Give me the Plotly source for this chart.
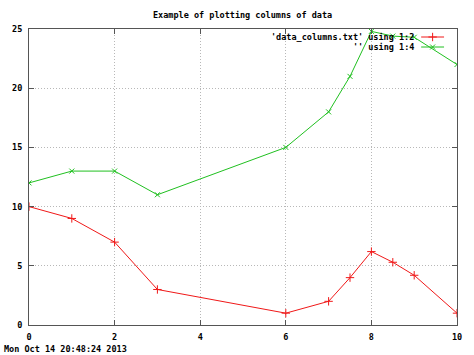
import plotly.graph_objects as go

x_red = [0, 1, 2, 3, 6, 7, 7.5, 8, 8.5, 9, 10]
y_red = [10, 9, 7, 3, 1, 2, 4, 6.2, 5.3, 4.2, 1]
x_green = [0, 1, 2, 3, 6, 7, 7.5, 8, 8.5, 9, 10]
y_green = [12, 13, 13, 11, 15, 18, 21, 24.8, 24.4, 24.3, 22]

title = "Example of plotting columns of data"
legend_labels = ["'data_columns.txt' using 1:2", "'' using 1:4"]
timestamp = "Mon Oct 14 20:48:24 2013"
x_ticks = [0, 2, 4, 6, 8, 10]
y_ticks = [0, 5, 10, 15, 20, 25]

RED = "#f01818"
GREEN = "#20c020"
FONT = dict(family="DejaVu Sans Mono", size=8.5, color="#000000", weight="bold")

W, H = 474, 355
L, R, T, B = 29, 15, 29, 30

pw = W - L - R
ph = H - T - B
def px_x(p):
    return (p - L) / pw
def px_y(p):
    return 1 - (p - T) / ph

fig = go.Figure()
fig.add_trace(go.Scatter(x=x_red, y=y_red, mode="lines+markers",
                         line=dict(color=RED, width=1),
                         marker=dict(symbol="cross-thin", size=6, line=dict(color=RED, width=1)),
                         showlegend=False))
fig.add_trace(go.Scatter(x=x_green, y=y_green, mode="lines+markers",
                         line=dict(color=GREEN, width=1),
                         marker=dict(symbol="x-thin", size=5, line=dict(color=GREEN, width=1)),
                         showlegend=False))

for i, (lab, col, sym) in enumerate([(legend_labels[0], RED, "cross-thin"), (legend_labels[1], GREEN, "x-thin")]):
    yy = px_y(37 + 10 * i)
    fig.add_trace(go.Scatter(x=[px_x(423), px_x(446)], y=[yy, yy], mode="lines",
                             line=dict(color=col, width=1), xaxis="x2", yaxis="y2",
                             showlegend=False, hoverinfo="skip"))
    fig.add_trace(go.Scatter(x=[px_x(434.5)], y=[yy], mode="markers",
                             marker=dict(symbol=sym, size=6 if i == 0 else 5, line=dict(color=col, width=1)),
                             xaxis="x2", yaxis="y2", showlegend=False, hoverinfo="skip"))
    fig.add_annotation(x=px_x(418), y=yy, xref="x2", yref="y2", text=lab, showarrow=False,
                       xanchor="right", yanchor="middle", font=FONT)

fig.add_annotation(x=px_x(243), y=px_y(15), xref="paper", yref="paper", text=title,
                   showarrow=False, xanchor="center", yanchor="middle", font=FONT)

# timestamp (gnuplot "set timestamp") at bottom-left
fig.add_annotation(x=px_x(2), y=px_y(349), xref="paper", yref="paper", text=timestamp,
                   showarrow=False, xanchor="left", yanchor="middle", font=FONT)

fig.update_layout(
    width=W, height=H,
    margin=dict(l=L, r=R, t=T, b=B, pad=0),
    paper_bgcolor="white", plot_bgcolor="white",
    font=FONT,
    xaxis=dict(range=[0, 10], tickvals=x_ticks, ticks="inside", ticklen=5, tickcolor="#555555",
               showline=True, linecolor="#555555", linewidth=1, mirror="ticks",
               showgrid=True, gridcolor="#b8b8b8", griddash="1px,2px", gridwidth=1,
               zeroline=False, tickfont=FONT, ticklabelstandoff=4),
    yaxis=dict(range=[0, 25], tickvals=y_ticks, ticks="inside", ticklen=5, tickcolor="#555555",
               showline=True, linecolor="#555555", linewidth=1, mirror="ticks",
               showgrid=True, gridcolor="#b8b8b8", griddash="1px,2px", gridwidth=1,
               zeroline=False, tickfont=FONT, ticklabelstandoff=4),
    xaxis2=dict(range=[0, 1], overlaying="x", visible=False, fixedrange=True),
    yaxis2=dict(range=[0, 1], overlaying="y", visible=False, fixedrange=True),
)

fig.write_html("out.html", config={"displayModeBar": False},
               post_script="document.body.style.margin='0';")
